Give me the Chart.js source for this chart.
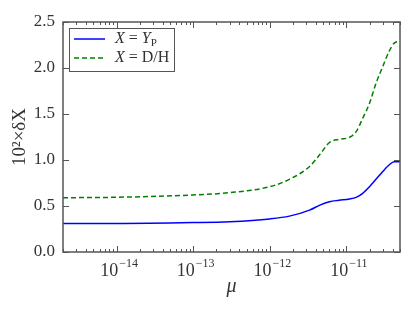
<!DOCTYPE html>
<html>
<head>
<meta charset="utf-8">
<script src="https://cdn.jsdelivr.net/npm/chart.js@4/dist/chart.umd.min.js"></script>
<style>
  body { margin: 0; background: #fff; }
  canvas { display: block; }
</style>
</head>
<body>
<canvas id="chart" width="416" height="310"></canvas>
<script>
// values
const mu = [2e-15, 1e-14, 1e-13, 3e-13, 1e-12, 1.8e-12, 3.3e-12, 4.5e-12, 6e-12, 8e-12, 1.1e-11, 1.34e-11, 1.63e-11, 2e-11, 2.43e-11, 2.96e-11, 3.6e-11, 4.2e-11, 5e-11];
const dYp = [0.31, 0.31, 0.32, 0.33, 0.36, 0.39, 0.455, 0.51, 0.547, 0.562, 0.576, 0.594, 0.638, 0.71, 0.79, 0.873, 0.946, 0.98, 0.98];
const dDH = [0.59, 0.595, 0.62, 0.645, 0.71, 0.79, 0.93, 1.06, 1.19, 1.225, 1.247, 1.308, 1.453, 1.616, 1.833, 2.01, 2.18, 2.27, 2.29];
const xMajor = [1e-14, 1e-13, 1e-12, 1e-11];
const xExp = ['−14', '−13', '−12', '−11'];
const yTicks = [0, 0.5, 1.0, 1.5, 2.0, 2.5];

const serif = '"Liberation Serif", "DejaVu Serif", serif';
const axisColor = '#555';
const textColor = '#333';

function pts(ys) {
    return mu.map((m, i) => ({ x: m, y: ys[i] }));
}

// frame + inward ticks, matplotlib style
const frameTicks = {
    id: 'frameTicks',
    afterDraw(chart) {
        const { ctx, chartArea: a, scales } = chart;
        const xs = scales.x, ys = scales.y;
        ctx.save();
        ctx.strokeStyle = axisColor;
        ctx.lineWidth = 1;
        for (let e = -16; e <= -10; e++) {
            for (let k = 1; k <= 9; k++) {
                const v = k * Math.pow(10, e);
                if (v < xs.min || v > xs.max) continue;
                const px = Math.round(xs.getPixelForValue(v)) + 0.5;
                const len = k === 1 ? 6 : 3;
                ctx.beginPath();
                ctx.moveTo(px, a.bottom); ctx.lineTo(px, a.bottom - len);
                ctx.moveTo(px, a.top); ctx.lineTo(px, a.top + len);
                ctx.stroke();
            }
        }
        yTicks.forEach(v => {
            const py = Math.round(ys.getPixelForValue(v)) + 0.5;
            ctx.beginPath();
            ctx.moveTo(a.left, py); ctx.lineTo(a.left + 6, py);
            ctx.moveTo(a.right, py); ctx.lineTo(a.right - 6, py);
            ctx.stroke();
        });
        ctx.lineWidth = 1.5;
        ctx.strokeRect(a.left, a.top, a.right - a.left, a.bottom - a.top);

        // x tick labels: 10 with raised exponent
        ctx.fillStyle = textColor;
        ctx.textBaseline = 'alphabetic';
        xMajor.forEach((v, i) => {
            const px = xs.getPixelForValue(v);
            ctx.font = '18px ' + serif;
            const wb = ctx.measureText('10').width;
            ctx.font = '12px ' + serif;
            const we = ctx.measureText(xExp[i]).width;
            const x0 = px - (wb + we) / 2 + 2;
            ctx.font = '18px ' + serif;
            ctx.fillText('10', x0, a.bottom + 24);
            ctx.font = '12px ' + serif;
            ctx.fillText(xExp[i], x0 + wb + 1, a.bottom + 15);
        });
        ctx.restore();
    }
};

// legend box inside the plot, upper left
const boxLegend = {
    id: 'boxLegend',
    afterDraw(chart) {
        const { ctx, chartArea: a } = chart;
        const x0 = a.left + 6, y0 = a.top + 6, w = 105, h = 43;
        ctx.save();
        ctx.fillStyle = '#fff';
        ctx.fillRect(x0, y0, w, h);
        ctx.strokeStyle = axisColor;
        ctx.lineWidth = 1;
        ctx.strokeRect(x0 + 0.5, y0 + 0.5, w, h);
        chart.data.datasets.forEach((ds, i) => {
            const yy = y0 + 11 + i * 19;
            ctx.strokeStyle = ds.borderColor;
            ctx.lineWidth = ds.borderWidth;
            ctx.setLineDash(ds.borderDash || []);
            ctx.beginPath();
            ctx.moveTo(x0 + 5, yy); ctx.lineTo(x0 + 36, yy);
            ctx.stroke();
            ctx.setLineDash([]);
            // label parts: [text, italic, sub]
            let tx = x0 + 46;
            ctx.fillStyle = textColor;
            ctx.textBaseline = 'middle';
            ds.legendParts.forEach(([t, it, sub]) => {
                ctx.font = (it ? 'italic ' : '') + (sub ? '11px ' : '16px ') + serif;
                ctx.fillText(t, tx, yy + (sub ? 4 : 0));
                tx += ctx.measureText(t).width;
            });
        });
        ctx.restore();
    }
};

new Chart(document.getElementById('chart'), {
    type: 'line',
    data: {
        datasets: [
            {
                label: 'X = YP',
                legendParts: [['X', true], [' = ', false], ['Y', true], ['P', false, true]],
                data: pts(dYp),
                borderColor: '#0000ff',
                borderWidth: 1.5,
                pointRadius: 0,
                cubicInterpolationMode: 'monotone'
            },
            {
                label: 'X = D/H',
                legendParts: [['X', true], [' = D/H', false]],
                data: pts(dDH),
                borderColor: '#008000',
                borderWidth: 1.5,
                borderDash: [5, 3],
                pointRadius: 0,
                cubicInterpolationMode: 'monotone'
            }
        ]
    },
    options: {
        responsive: false,
        animation: false,
        layout: { padding: { top: 22, right: 16, left: 0, bottom: 0 } },
        plugins: { legend: { display: false }, tooltip: { enabled: false } },
        scales: {
            x: {
                type: 'logarithmic',
                min: 2e-15,
                max: 5e-11,
                grid: { display: false, drawTicks: false },
                border: { display: false },
                afterBuildTicks: s => { s.ticks = xMajor.map(v => ({ value: v })); },
                afterFit: s => { s.height = 58; },
                ticks: { display: false },
                title: {
                    display: true,
                    text: 'μ',
                    color: textColor,
                    font: { family: serif, size: 20, style: 'italic' },
                    padding: { top: 0, bottom: 11 }
                }
            },
            y: {
                min: 0,
                max: 2.5,
                grid: { display: false, drawTicks: false },
                border: { display: false },
                afterBuildTicks: s => { s.ticks = yTicks.map(v => ({ value: v })); },
                afterFit: s => { s.width = 63; },
                ticks: {
                    padding: 8,
                    color: textColor,
                    font: { family: serif, size: 17 },
                    callback: v => v.toFixed(1)
                },
                title: {
                    display: true,
                    text: '10²×δX',
                    color: textColor,
                    font: { family: serif, size: 19 },
                    padding: { top: 9, bottom: 0 }
                }
            }
        }
    },
    plugins: [frameTicks, boxLegend]
});
</script>
</body>
</html>
